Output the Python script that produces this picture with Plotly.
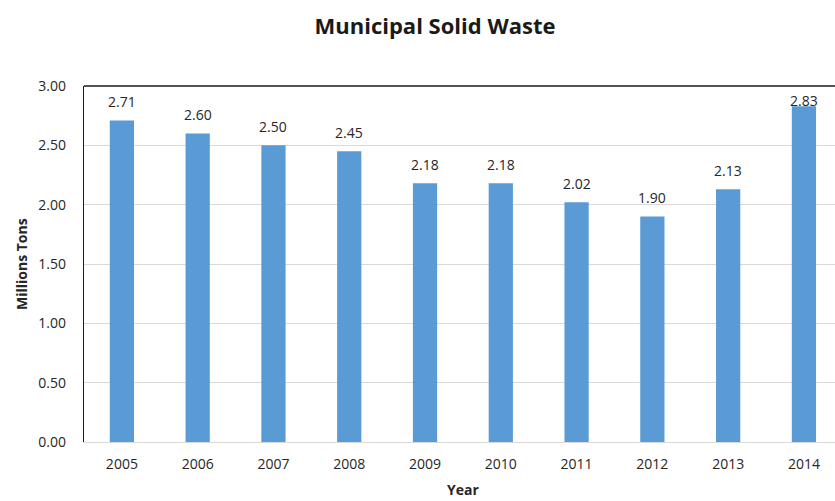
import plotly.graph_objects as go

# Annual municipal solid waste, millions of tons
years = ["2005", "2006", "2007", "2008", "2009", "2010", "2011", "2012", "2013", "2014"]
tons = [2.71, 2.60, 2.50, 2.45, 2.18, 2.18, 2.02, 1.90, 2.13, 2.83]
y_ticks = [0, 0.5, 1.0, 1.5, 2.0, 2.5, 3.0]

FONT = "Open Sans"
Y_MAX = 3.0
PLOT_H = 501 - 86 - 59

fig = go.Figure()
fig.add_trace(go.Bar(
    x=list(range(len(years))),
    y=tons,
    width=0.32,
    marker=dict(color="#5B9BD5", line=dict(width=0)),
    hoverinfo="x+y",
))

# value labels above each bar, kept inside the plot area
for i, v in enumerate(tons):
    fig.add_annotation(
        x=i, y=min(v + 0.16, Y_MAX - 0.118),
        text=f"{v:.2f}", showarrow=False,
        xanchor="center", yanchor="middle",
        font=dict(family=FONT, size=14, color="#262626"),
    )

# dark frame on the top edge of the plot area
fig.add_shape(type="line", xref="paper", yref="paper",
              x0=0, x1=1, y0=1, y1=1,
              line=dict(color="#1a1a1a", width=1.3))

fig.add_annotation(
    xref="paper", yref="paper", x=-63 / 751, y=0.5,
    text="<b>Millions Tons</b>", textangle=-90, showarrow=False,
    xanchor="center", yanchor="middle",
    font=dict(family=FONT, size=14, color="#262626"),
)
fig.add_annotation(
    xref="paper", yref="paper", x=0.505, y=-48 / PLOT_H,
    text="<b>Year</b>", showarrow=False,
    xanchor="center", yanchor="middle",
    font=dict(family=FONT, size=14, color="#262626"),
)

fig.update_layout(
    width=835, height=501,
    margin=dict(l=84, r=0, t=86, b=59),
    paper_bgcolor="white", plot_bgcolor="white",
    showlegend=False,
    title=dict(
        text="<b>Municipal Solid Waste</b>",
        x=435 / 835, xref="container", xanchor="center",
        y=1 - 26 / 501, yref="container", yanchor="middle",
        font=dict(family=FONT, size=22, color="#1a1a1a"),
    ),
    xaxis=dict(
        range=[-0.5, 9.41],
        tickmode="array",
        tickvals=list(range(len(years))),
        ticktext=years,
        showgrid=False, zeroline=False,
        showline=True, linecolor="#d9d9d9", linewidth=1,
        ticks="outside", ticklen=9, tickcolor="rgba(0,0,0,0)",
        tickfont=dict(family=FONT, size=14, color="#262626"),
        fixedrange=True,
    ),
    yaxis=dict(
        range=[0, Y_MAX],
        tickmode="array",
        tickvals=y_ticks,
        ticktext=[f"{t:.2f}" for t in y_ticks],
        showgrid=True, gridcolor="#d9d9d9", gridwidth=1,
        zeroline=False,
        showline=True, linecolor="#1a1a1a", linewidth=1.3,
        ticks="outside", ticklen=14, tickcolor="rgba(0,0,0,0)",
        tickfont=dict(family=FONT, size=14, color="#262626"),
        fixedrange=True,
    ),
)

fig.write_html("out.html")
